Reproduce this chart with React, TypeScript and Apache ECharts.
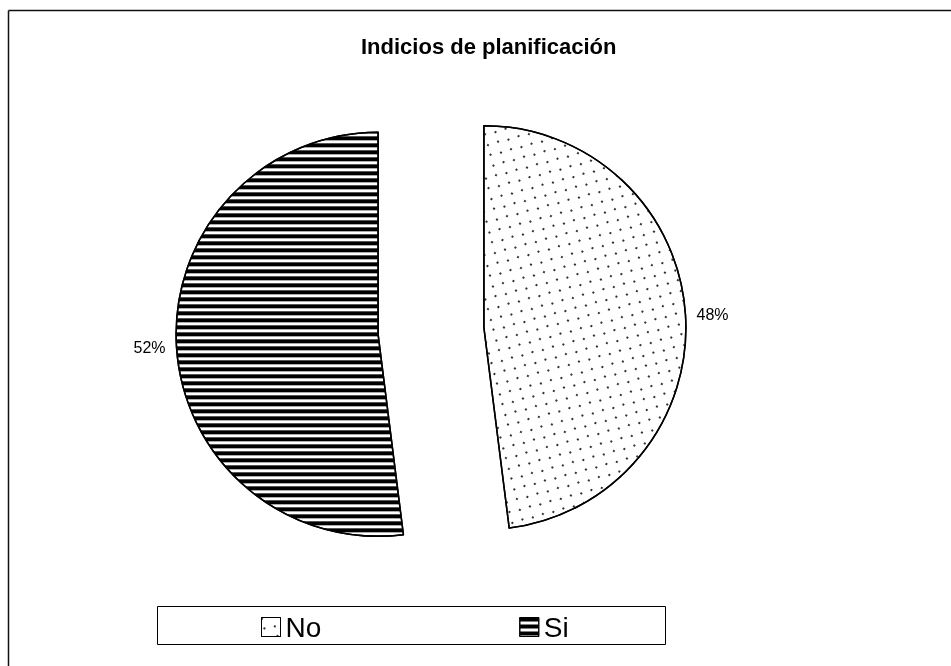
import { useEffect, useRef } from 'react';
import * as echarts from 'echarts';

const titleText = 'Indicios de planificación';
const categories = ['No', 'Si'];
const values = [48, 52];
const valueLabels = ['48%', '52%'];

export default function App() {
  const ref = useRef<HTMLDivElement>(null);
  useEffect(() => {
    const chart = echarts.init(ref.current!, null, { renderer: 'svg' });
    const decals: any[] = [
      {
        symbol: 'rect',
        symbolSize: 1,
        color: '#333',
        dashArrayX: [[2, 13], [0, 7, 2, 6]],
        dashArrayY: [2, 5, 2, 6],
      },
      {
        symbol: 'rect',
        symbolSize: 1,
        color: '#000',
        dashArrayX: [[10, 0]],
        dashArrayY: [4, 3],
      },
    ];
    chart.setOption({
      animation: false,
      aria: { enabled: true, decal: { show: true } },
      textStyle: { fontFamily: '"Liberation Sans", Arial, sans-serif' },
      title: {
        text: titleText,
        left: 356,
        top: 30,
        textStyle: { fontSize: 22, fontWeight: 'bold', color: '#000' },
      },
      legend: {
        data: categories,
        left: 256,
        top: 608,
        icon: 'rect',
        itemWidth: 19,
        itemHeight: 19,
        itemGap: 198,
        selectedMode: false,
        itemStyle: { borderColor: '#000', borderWidth: 1 },
        textStyle: { fontSize: 28, color: '#000', padding: [0, 0, 0, 0] },
      },
      graphic: [
        { type: 'line', shape: { x1: 8.5, y1: 10.5, x2: 951, y2: 10.5 }, style: { stroke: '#111', lineWidth: 1.5 } },
        { type: 'line', shape: { x1: 8.5, y1: 10.5, x2: 8.5, y2: 666 }, style: { stroke: '#111', lineWidth: 1.5 } },
        { type: 'rect', shape: { x: 157.5, y: 606.5, width: 508, height: 38 }, style: { fill: 'rgba(0,0,0,0)', stroke: '#000', lineWidth: 1 }, z: -1 },
      ],
      series: [
        {
          type: 'pie',
          center: [431, 331],
          radius: 202,
          startAngle: 90,
          clockwise: true,
          selectedMode: 'multiple',
          selectedOffset: 53,
          itemStyle: { color: '#fff', borderColor: '#000', borderWidth: 1.5 },
          emphasis: { disabled: true },
          select: { itemStyle: { borderColor: '#000', borderWidth: 1.5 } },
          label: {
            position: 'outside',
            fontSize: 16,
            color: '#000',
            formatter: (p: any) => valueLabels[p.dataIndex],
          },
          labelLine: { show: false, length: 6, length2: 0 },
          data: categories.map((name, i) => ({
            name,
            value: values[i],
            selected: true,
            itemStyle: { decal: decals[i] },
          })),
        },
      ],
    });
    return () => chart.dispose();
  }, []);
  return <div ref={ref} style={{ position: 'fixed', left: 0, top: 0, width: 951, height: 666 }} />;
}
